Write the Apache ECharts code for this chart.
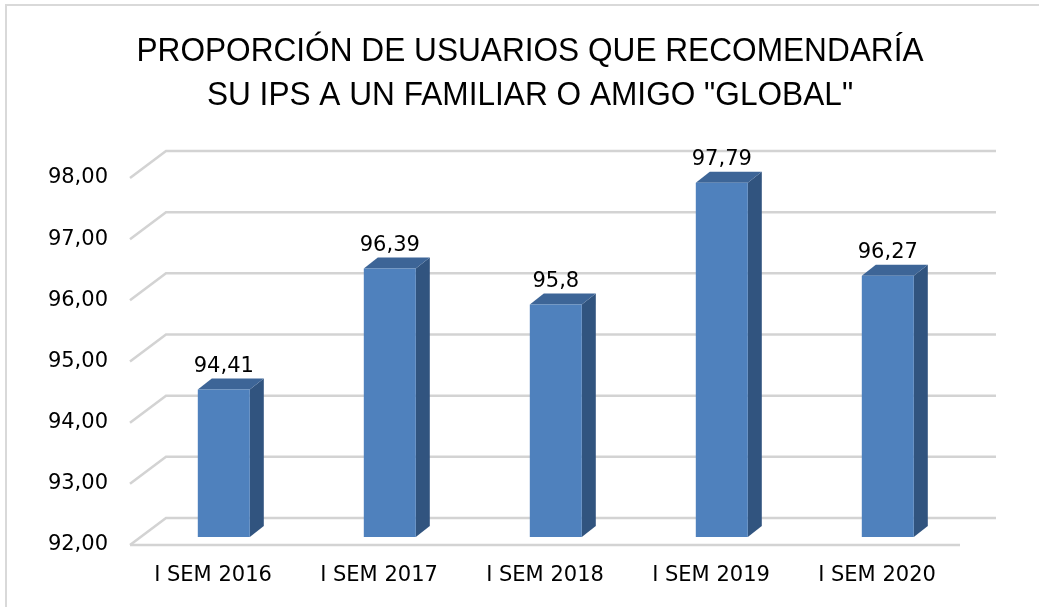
<!DOCTYPE html>
<html><head><meta charset="utf-8">
<script src="https://cdn.jsdelivr.net/npm/echarts@6/dist/echarts.min.js"></script>
<style>html,body{margin:0;padding:0;background:#fff;}#c{width:1039px;height:607px;}</style>
</head><body><div id="c"></div>
<script>
var titleLines = ['PROPORCIÓN DE USUARIOS QUE RECOMENDARÍA', 'SU IPS A UN FAMILIAR O AMIGO "GLOBAL"'];
var categories = ['I SEM 2016', 'I SEM 2017', 'I SEM 2018', 'I SEM 2019', 'I SEM 2020'];
var values = [94.41, 96.39, 95.8, 97.79, 96.27];
var yTicks = [92, 93, 94, 95, 96, 97, 98];

var FLOOR_DX = 36, FLOOR_DY = -27;
var BAR_OFF = 0.3, BAR_W = 52, BAR_DX = 14, BAR_DY = -11;
var FONT = 'DejaVu Sans';

var chart = echarts.init(document.getElementById('c'), null, {renderer: 'canvas'});
chart.setOption({
  animation: false,
  backgroundColor: '#fff',
  graphic: [{
    type: 'rect', shape: {x: 6, y: 5, width: 1100, height: 700},
    style: {fill: 'none', stroke: '#d9d9d9', lineWidth: 2}, z: -10
  }, {
    type: 'text', x: 530, y: 74, scaleX: 0.93, originX: 0, originY: 0,
    style: {text: titleLines.join('\n'), fontFamily: 'Liberation Sans', fontSize: 34, fill: '#000',
      lineHeight: 44, align: 'center', verticalAlign: 'middle'}
  }],
  grid: {left: 130, right: 79, top: 178, bottom: 62},
  xAxis: {
    type: 'category', data: categories,
    axisLine: {show: false}, axisTick: {show: false}, splitLine: {show: false},
    axisLabel: {fontFamily: FONT, fontSize: 21, color: '#000', margin: 20}
  },
  yAxis: {
    type: 'value', min: 92, max: 98, interval: 1,
    axisLine: {show: false}, axisTick: {show: false}, splitLine: {show: false},
    axisLabel: {fontFamily: FONT, fontSize: 21, color: '#000', margin: 22,
      formatter: function (v) { return v.toFixed(2).replace('.', ','); }}
  },
  series: [{
    type: 'custom', z: 1, silent: true,
    data: yTicks.map(function (t) { return [0, t]; }),
    renderItem: function (params, api) {
      var cs = params.coordSys;
      var y = api.coord([0, api.value(1)])[1];
      var l = cs.x, r = cs.x + cs.width;
      var pts = [[l, y], [l + FLOOR_DX, y + FLOOR_DY], [r + FLOOR_DX, y + FLOOR_DY]];
      var children = [{type: 'polyline', shape: {points: pts}, style: {stroke: '#d3d3d3', lineWidth: 2.5, fill: null}}];
      if (api.value(1) === yTicks[0]) {
        children.push({type: 'line', shape: {x1: l, y1: y, x2: r, y2: y}, style: {stroke: '#d3d3d3', lineWidth: 2.5}});
      }
      return {type: 'group', children: children};
    }
  }, {
    type: 'custom', z: 2, silent: true,
    data: values.map(function (v, i) { return [i, v]; }),
    renderItem: function (params, api) {
      var top = api.coord([api.value(0), api.value(1)]);
      var bot = api.coord([api.value(0), yTicks[0]]);
      var cx = top[0] + FLOOR_DX * BAR_OFF;
      var ty = top[1] + FLOOR_DY * BAR_OFF;
      var by = bot[1] + FLOOR_DY * BAR_OFF;
      var x0 = cx - BAR_W / 2, x1 = cx + BAR_W / 2;
      var lbl = String(api.value(1)).replace('.', ',');
      return {type: 'group', children: [
        {type: 'polygon', shape: {points: [[x1, ty], [x1 + BAR_DX, ty + BAR_DY], [x1 + BAR_DX, by + BAR_DY], [x1, by]]},
          style: {fill: '#31547f'}},
        {type: 'polygon', shape: {points: [[x0, ty], [x0 + BAR_DX, ty + BAR_DY], [x1 + BAR_DX, ty + BAR_DY], [x1, ty]]},
          style: {fill: '#3d6597'}},
        {type: 'rect', shape: {x: x0, y: ty, width: BAR_W, height: by - ty},
          style: {fill: '#4f81bd'}},
        {type: 'text', x: cx, y: ty + BAR_DY - 12,
          style: {text: lbl, fontFamily: FONT, fontSize: 21, fill: '#000', align: 'center', verticalAlign: 'middle'}}
      ]};
    }
  }]
});
</script></body></html>
